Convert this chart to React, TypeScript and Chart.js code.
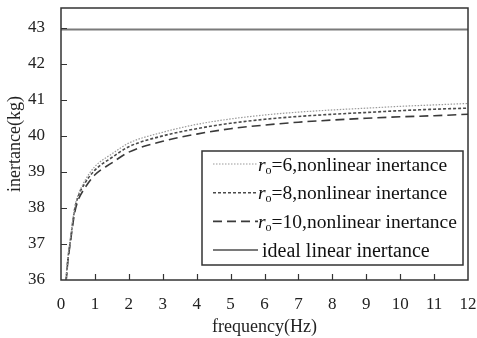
import { useEffect, useRef } from "react";
import { Chart, registerables } from "chart.js";

Chart.register(...registerables);

const freq = [0.15, 0.2, 0.27, 0.4, 0.5, 0.7, 1, 1.5, 2, 3, 4, 5, 6, 7, 8, 9, 10, 11, 12];
const r6 = [36.0, 36.6, 37.1, 38.0, 38.35, 38.75, 39.15, 39.5, 39.8, 40.1, 40.32, 40.47, 40.58, 40.66, 40.72, 40.77, 40.82, 40.86, 40.9];
const r8 = [36.0, 36.55, 37.05, 37.95, 38.3, 38.68, 39.05, 39.4, 39.7, 40.0, 40.2, 40.35, 40.46, 40.54, 40.6, 40.65, 40.7, 40.74, 40.77];
const r10 = [35.95, 36.5, 37.0, 37.85, 38.2, 38.55, 38.92, 39.25, 39.55, 39.85, 40.05, 40.2, 40.3, 40.38, 40.44, 40.49, 40.53, 40.56, 40.6];
const idealX = [0, 12];
const idealY = [42.95, 42.95];
const xTicks = [0, 1, 2, 3, 4, 5, 6, 7, 8, 9, 10, 11, 12];
const yTicks = [36, 37, 38, 39, 40, 41, 42, 43];
const legendLabels = [
  { r: "r", sub: "o", rest: "=6,nonlinear inertance" },
  { r: "r", sub: "o", rest: "=8,nonlinear inertance" },
  { r: "r", sub: "o", rest: "=10,nonlinear inertance" },
  { r: "", sub: "", rest: "ideal linear inertance" },
];

const SERIF = "'Liberation Serif', 'Times New Roman', serif";

const styles = [
  { color: "#9a9a9a", width: 1.2, dash: [1.5, 1.5] },
  { color: "#4a4a4a", width: 1.6, dash: [3, 2] },
  { color: "#3a3a3a", width: 1.6, dash: [9, 5] },
  { color: "#7a7a7a", width: 2, dash: [] as number[] },
];

const framePlugin = {
  id: "frame",
  afterDraw(chart: any) {
    const { ctx, chartArea } = chart;
    const xs = chart.scales.x;
    const ys = chart.scales.y;
    ctx.save();
    ctx.setLineDash([]);
    ctx.strokeStyle = "#333";
    ctx.lineWidth = 1.5;
    ctx.strokeRect(chartArea.left, chartArea.top, chartArea.right - chartArea.left, chartArea.bottom - chartArea.top);
    ctx.beginPath();
    xTicks.forEach((v) => {
      if (v === 0 || v === 12) return;
      const px = Math.round(xs.getPixelForValue(v)) + 0.5;
      ctx.moveTo(px, chartArea.bottom);
      ctx.lineTo(px, chartArea.bottom - 6);
    });
    yTicks.forEach((v) => {
      if (v === 36) return;
      const py = Math.round(ys.getPixelForValue(v)) + 0.5;
      ctx.moveTo(chartArea.left, py);
      ctx.lineTo(chartArea.left + 6, py);
    });
    ctx.lineWidth = 1.2;
    ctx.stroke();

    // legend
    const bx = chartArea.left + 141;
    const by = chartArea.top + 143;
    const bw = 261;
    const bh = 114;
    ctx.fillStyle = "#fff";
    ctx.fillRect(bx, by, bw, bh);
    ctx.strokeStyle = "#333";
    ctx.lineWidth = 1.5;
    ctx.strokeRect(bx, by, bw, bh);
    legendLabels.forEach((lab, i) => {
      const st = styles[i];
      const ly = by + 13 + i * 28.7;
      ctx.beginPath();
      ctx.setLineDash(st.dash);
      ctx.strokeStyle = st.color;
      ctx.lineWidth = st.width;
      ctx.moveTo(bx + 11, ly);
      ctx.lineTo(bx + 56, ly);
      ctx.stroke();
      ctx.setLineDash([]);
      ctx.fillStyle = "#111";
      ctx.textBaseline = "alphabetic";
      ctx.textAlign = "left";
      let tx = bx + (lab.r ? 56 : 60);
      const base = ly + 6.5;
      if (lab.r) {
        ctx.font = "italic 19.5px " + SERIF;
        ctx.fillText(lab.r, tx, base);
        tx += ctx.measureText(lab.r).width;
        ctx.font = "12px " + SERIF;
        ctx.fillText(lab.sub, tx, base + 3);
        tx += ctx.measureText(lab.sub).width;
        ctx.font = "19.5px " + SERIF;
      } else {
        ctx.font = "20px " + SERIF;
      }
      ctx.fillText(lab.rest, tx, base);
    });
    ctx.restore();
  },
};

export default function App() {
  const ref = useRef<HTMLCanvasElement | null>(null);
  useEffect(() => {
    const canvas = ref.current;
    if (!canvas) return;
    const series = [r6, r8, r10];
    const datasets: any[] = series.map((s, i) => ({
      label: legendLabels[i].rest,
      data: freq.map((f, j) => ({ x: f, y: s[j] })),
      borderColor: styles[i].color,
      borderWidth: styles[i].width,
      borderDash: styles[i].dash,
      pointRadius: 0,
      fill: false,
      cubicInterpolationMode: "monotone",
    }));
    datasets.push({
      label: legendLabels[3].rest,
      data: idealX.map((f, j) => ({ x: f, y: idealY[j] })),
      borderColor: styles[3].color,
      borderWidth: styles[3].width,
      pointRadius: 0,
      fill: false,
    });
    const zeroPad = (s: any) => {
      s.paddingTop = 0;
      s.paddingBottom = 0;
      s.paddingLeft = 0;
      s.paddingRight = 0;
    };
    const chart = new Chart(canvas, {
      type: "line",
      data: { datasets },
      options: {
        animation: false,
        responsive: false,
        maintainAspectRatio: false,
        layout: { padding: { top: 8, right: 9, left: 0, bottom: 0 } },
        plugins: { legend: { display: false }, tooltip: { enabled: false } },
        scales: {
          x: {
            type: "linear",
            min: 0,
            max: 12,
            afterFit: (s: any) => {
              s.height = 58;
              zeroPad(s);
            },
            afterBuildTicks: (s: any) => {
              s.ticks = xTicks.map((v) => ({ value: v }));
            },
            grid: { display: false, drawTicks: false },
            border: { display: false },
            ticks: {
              color: "#222",
              padding: 14,
              maxRotation: 0,
              autoSkip: false,
              font: { family: SERIF, size: 17 },
            },
            title: {
              display: true,
              text: "frequency(Hz)",
              color: "#222",
              font: { family: SERIF, size: 18 },
              padding: { top: 0, bottom: 0 },
            },
          },
          y: {
            type: "linear",
            min: 36,
            max: 43.55,
            afterFit: (s: any) => {
              s.width = 61;
              zeroPad(s);
            },
            afterBuildTicks: (s: any) => {
              s.ticks = yTicks.map((v) => ({ value: v }));
            },
            grid: { display: false, drawTicks: false },
            border: { display: false },
            ticks: {
              color: "#222",
              padding: 16,
              autoSkip: false,
              font: { family: SERIF, size: 17 },
            },
            title: {
              display: true,
              text: "inertance(kg)",
              color: "#222",
              font: { family: SERIF, size: 18 },
              padding: { top: 4, bottom: 0 },
            },
          },
        },
      },
      plugins: [framePlugin],
    });
    return () => chart.destroy();
  }, []);
  return (
    <div style={{ position: "fixed", left: 0, top: 0, width: 477, height: 338, background: "#fff" }}>
      <canvas ref={ref} width={477} height={338} style={{ width: 477, height: 338, display: "block" }} />
    </div>
  );
}
